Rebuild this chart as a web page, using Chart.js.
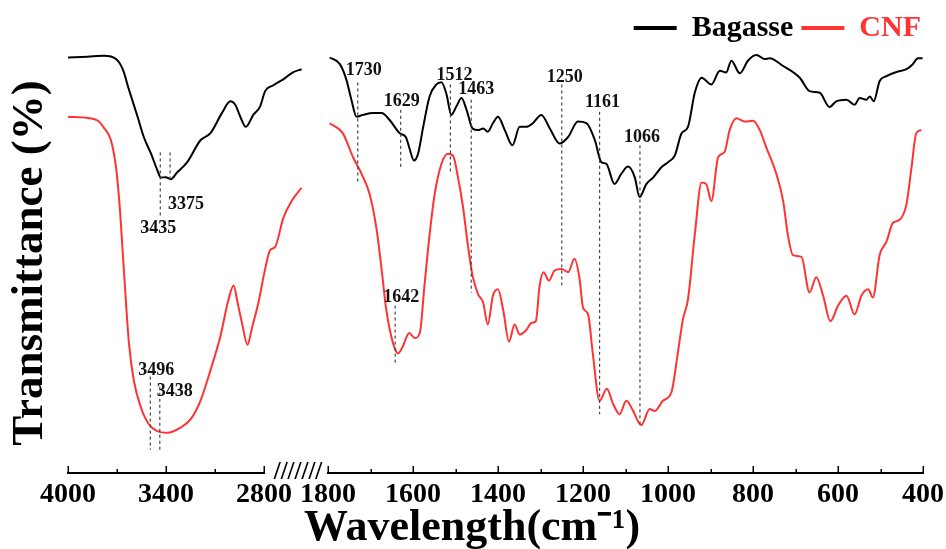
<!DOCTYPE html>
<html><head><meta charset="utf-8">
<script src="https://cdn.jsdelivr.net/npm/chart.js@4.4.0/dist/chart.umd.min.js"></script>
<style>html,body{margin:0;padding:0;background:#fff;}canvas{display:block;}</style>
</head><body>
<canvas id="c" width="946" height="549"></canvas>
<script>
// ---------- data (wavenumber in cm-1, transmittance in arbitrary %) ----------
const bagasseLeftWn = [4000,3880,3779,3706,3665,3627,3574,3536,3493,3452,3432,3402,3371,3331,3270,3189,3128,3057,3006,2976,2945,2911,2866,2824,2793,2745,2682,2623,2570];
const bagasseLeftT  = [102.4,102.6,102.8,102,99.5,94.5,87.8,82.8,78.8,74.5,72.8,72.9,72.4,74.1,76.6,82,83.75,88.75,91.6,90.75,87.8,85.3,88.25,90.3,94.1,95.5,97,98.75,99.5];

const cnfLeftWn = [4000,3878,3817,3779,3737,3706,3686,3665,3645,3627,3597,3554,3505,3452,3392,3311,3250,3189,3128,3067,3017,2986,2962,2935,2901,2874,2834,2793,2763,2732,2682,2631,2570];
const cnfLeftT  = [87.8,87.5,86.8,85,82,75.3,67,54.5,42,32,22.8,16.2,12,10.3,9.9,11.2,13.2,17.8,25.3,33.7,42.8,46.2,42,37,31.6,35.7,42,50.3,54.9,55.7,62.8,67,70.3];

const bagasseRightWn = [1796,1772,1757,1745,1733,1718,1694,1674,1655,1631,1617,1608,1598,1588,1576,1561,1545,1533,1521,1510,1498,1486,1474,1460,1447,1435,1424,1412,1400,1384,1366,1349,1333,1318,1298,1278,1255,1235,1212,1192,1172,1157,1145,1126,1110,1094,1078,1067,1051,1035,1016,1000,984,968,953,937,921,898,878,863,851,831,812,792,772,761,729,690,667,643,620,604,580,561,549,533,525,516,502,486,463,439,424,412,401];
const bagasseRightT  = [102.4,100.75,97,92,87.8,88.25,88.7,88.7,87,83.7,82.8,79.9,77,78.7,85.3,92.8,95.75,96.3,93.25,88.25,90.3,92.4,89.5,84.9,84.5,84.9,84.1,86.2,87.8,84.5,80.75,85.3,85.3,86.2,88.25,84.9,81.2,82.8,86.6,86.2,82,76.6,76.2,71.2,73.7,75.5,72.8,68,71.2,72.8,75.3,76.6,78.25,83.7,85.3,93.7,97.4,95.75,99.1,98.7,101.6,98.5,101.6,103,102,102.2,100.3,97.4,94.1,93.7,90.2,91.6,92,90.75,92.4,92,92.8,91.6,96.6,97.8,98.8,99.5,100.75,102.2,102.2];

const cnfRightWn = [1796,1765,1741,1721,1702,1686,1674,1663,1647,1635,1624,1609,1596,1584,1573,1561,1549,1533,1518,1506,1494,1482,1471,1460,1447,1435,1424,1412,1400,1388,1374,1361,1349,1333,1321,1311,1302,1293,1280,1267,1251,1235,1220,1208,1200,1188,1177,1161,1144,1129,1114,1098,1083,1063,1043,1031,1012,992,977,965,953,937,921,910,898,882,867,855,839,820,800,784,769,745,729,718,706,686,667,651,635,618,600,580,561,545,529,518,502,486,471,455,439,427,416,404];
const cnfRightT  = [86.2,83.7,77.8,73.7,68.7,60.3,50.3,40.3,32,29.5,31.2,34.5,33.25,34.5,46.2,58.7,68.7,76.2,78.7,78.25,72.8,65.3,56.2,48.7,44.1,42,36.6,43.7,45.3,40.3,32.4,36.6,34.1,35.3,37,37.4,46.2,49.5,47.4,49.9,50.3,49.5,52.8,47.8,40.75,39.1,29.5,17.8,20.75,17,14.5,17.8,15.5,11.8,15.75,15.3,17.8,19.9,29.5,37.8,42.8,58.7,71.6,71.2,67,77.8,79.1,84.5,87.4,86.6,86.8,84.5,80.3,73.7,67,58.7,53.7,53.25,44.5,48.25,43.7,37.4,41.2,43.7,39.1,43.7,45.3,43.25,53.7,57,61.6,62.4,66.2,75.3,83.7,84.5];

// peak annotations: wavenumber, dashed line top / bottom, label height
const peakLabels = ['3435','3375','3496','3438','1730','1629','1512','1463','1250','1161','1066','1642'];
const peakWn     = [3435,3375,3496,3438,1730,1629,1512,1463,1250,1161,1066,1642];
const peakTop    = [79,79,23.75,21.25,96.25,89.5,95.75,92,95.75,89,80.75,41.25];
const peakBottom = [63.25,72,5.75,5.75,71.5,75,73.75,44.5,46.25,14.5,11.5,27];
const peakLabelT = [60.25,66.25,25.25,20,99.25,91.5,98,94.5,97.5,91.25,82.75,43.25];
const peakLabelNudge = [-2,16,6,15,6,1,4,5,3,3,2,6]; // px

const leftTicks = [4000,3700,3400,3100,2800];
const leftLabels = [4000,3400,2800];
const rightLabels = [1800,1600,1400,1200,1000,800,600,400];

const SERIF = "'Liberation Serif','Times New Roman',serif";
const BLACK = '#000000', RED = '#ff3333';
const pts = (wn, t) => wn.map((x, i) => ({x, y: t[i]}));
const CLIP_LEFT = {left: 6, top: 6, right: 50, bottom: 6};
const CLIP_RIGHT = {left: 6, top: 6, right: 6, bottom: 6};

const decor = {
  id: 'decor',
  afterDatasetsDraw(chart) {
    const {ctx} = chart;
    const {xL, xG, xR, y} = chart.scales;
    ctx.save();
    // inward tick marks
    ctx.strokeStyle = '#000'; ctx.lineWidth = 1.5;
    [xL, xR].forEach(s => {
      s.ticks.forEach(t => {
        const px = Math.round(s.getPixelForValue(t.value)) + 0.25;
        const len = t.label !== '' ? 7 : 4;
        ctx.beginPath(); ctx.moveTo(px, s.top); ctx.lineTo(px, s.top - len); ctx.stroke();
      });
    });
    // axis break mark
    ctx.fillStyle = '#000';
    ctx.font = 'bold 25px ' + SERIF;
    ctx.textAlign = 'center'; ctx.textBaseline = 'middle';
    ctx.fillText('///////', (xG.left + xG.right) / 2 + 2, xG.top);
    // peak annotations
    ctx.font = 'bold 18px ' + SERIF;
    peakWn.forEach((w, i) => {
      const s = w > 2000 ? xL : xR;
      const px = s.getPixelForValue(w);
      ctx.setLineDash([3, 3]); ctx.strokeStyle = '#444'; ctx.lineWidth = 1.2;
      ctx.beginPath(); ctx.moveTo(px, y.getPixelForValue(peakTop[i])); ctx.lineTo(px, y.getPixelForValue(peakBottom[i])); ctx.stroke();
      ctx.setLineDash([]);
      ctx.fillStyle = '#111';
      ctx.fillText(peakLabels[i], px + peakLabelNudge[i], y.getPixelForValue(peakLabelT[i]));
    });
    ctx.restore();
  }
};

const tickFont = {family: SERIF, size: 28, weight: 'bold', lineHeight: 1};
new Chart(document.getElementById('c'), {
  type: 'line',
  data: {
    datasets: [
      {label: 'Bagasse', data: pts(bagasseLeftWn, bagasseLeftT), xAxisID: 'xL', borderColor: BLACK, backgroundColor: BLACK, clip: CLIP_LEFT},
      {label: 'Bagasse', data: pts(bagasseRightWn, bagasseRightT), xAxisID: 'xR', borderColor: BLACK, backgroundColor: BLACK, clip: CLIP_RIGHT},
      {label: 'CNF', data: pts(cnfLeftWn, cnfLeftT), xAxisID: 'xL', borderColor: RED, backgroundColor: RED, clip: CLIP_LEFT},
      {label: 'CNF', data: pts(cnfRightWn, cnfRightT), xAxisID: 'xR', borderColor: RED, backgroundColor: RED, clip: CLIP_RIGHT}
    ]
  },
  options: {
    responsive: false, animation: false,
    layout: {padding: {top: 5, right: 17, bottom: 0, left: 15}},
    elements: {point: {radius: 0}, line: {borderWidth: 2, cubicInterpolationMode: 'monotone'}},
    scales: {
      xL: {type: 'linear', position: 'bottom', stack: 'wn', stackWeight: 196, reverse: true, min: 2800, max: 4000,
        afterFit: s => { s.paddingRight = 0; },
        afterBuildTicks: s => { s.ticks = leftTicks.map(v => ({value: v})); },
        ticks: {autoSkip: false, maxRotation: 0, minRotation: 0, padding: 8, font: tickFont, color: '#000',
          callback: v => leftLabels.includes(v) ? String(v) : ''},
        grid: {display: false, drawTicks: false}, border: {display: true, color: '#000', width: 2}},
      xG: {type: 'linear', position: 'bottom', stack: 'wn', stackWeight: 64, min: 0, max: 1,
        ticks: {display: false}, grid: {display: false, drawTicks: false}, border: {display: false}},
      xR: {type: 'linear', position: 'bottom', stack: 'wn', stackWeight: 595, reverse: true, min: 400, max: 1800,
        afterFit: s => { s.paddingLeft = 0; s.paddingRight = 23; },
        ticks: {stepSize: 100, autoSkip: false, maxRotation: 0, minRotation: 0, padding: 8, font: tickFont, color: '#000',
          callback: v => rightLabels.includes(v) ? String(v) : ''},
        grid: {display: false, drawTicks: false}, border: {display: true, color: '#000', width: 2}},
      y: {display: false, min: 0, max: 103.5}
    },
    plugins: {
      legend: {position: 'top', align: 'end',
        labels: {boxWidth: 43, boxHeight: 4, padding: 8, color: '#000',
          font: {family: SERIF, size: 30, weight: 'bold'},
          generateLabels: chart => Chart.defaults.plugins.legend.labels.generateLabels(chart)
            .filter(l => l.datasetIndex === 0 || l.datasetIndex === 2)
            .map(l => Object.assign(l, {fillStyle: l.strokeStyle, lineWidth: 0, fontColor: l.strokeStyle}))}},
      title: {display: true, position: 'left', fullSize: false, text: 'Transmittance (%)', color: '#000',
        font: {family: SERIF, size: 45, weight: 'bold', lineHeight: 1}, padding: {top: -7.5, bottom: 15.5}},
      subtitle: {display: true, position: 'bottom', text: 'Wavelength(cm\u207B\u00B9)', color: '#000',
        font: {family: SERIF, size: 44, weight: 'bold', lineHeight: 1}, padding: {top: -10, bottom: -2}},
      tooltip: {enabled: false}
    }
  },
  plugins: [decor]
});
</script>
</body></html>
